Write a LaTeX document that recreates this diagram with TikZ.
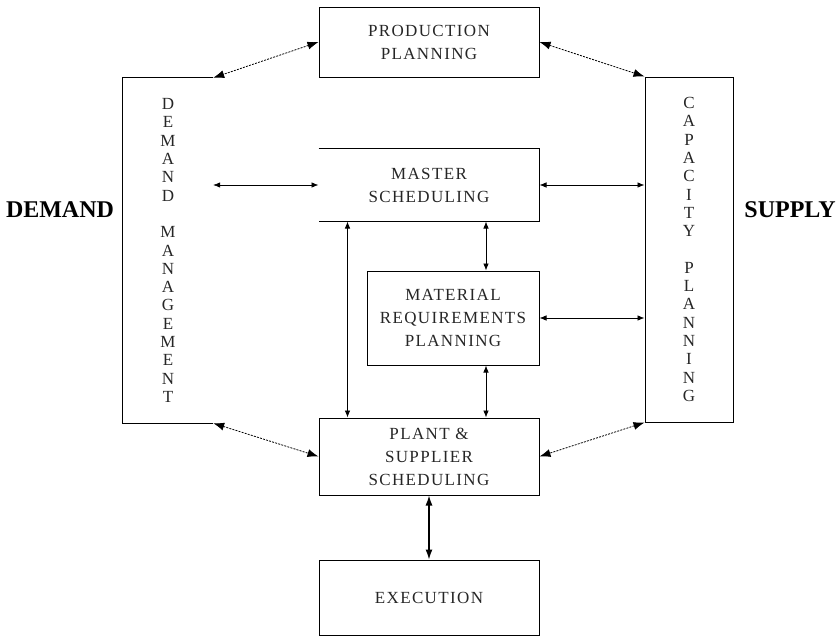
\documentclass[tikz,border=0pt]{standalone}
\usepackage{fontspec}
\setmainfont{Liberation Serif}
\newfontfamily\boxfont[LetterSpace=8]{Liberation Serif}
\usetikzlibrary{arrows.meta}

\begin{document}
\begin{tikzpicture}[x=1pt, y=-1pt,
	box/.style={draw, line width=1pt, minimum width=220pt, align=center, text=black!85, font={\boxfont\fontsize{17}{23}\selectfont}},
	column/.style={minimum width=90pt, minimum height=345pt, align=center, text=black!85, font={\boxfont\fontsize{17}{18.3}\selectfont}},
	side/.style={font={\bfseries\fontsize{24}{28}\selectfont}},
	link/.style={line width=0.7pt, {Latex[length=7pt,width=5.5pt]}-{Latex[length=7pt,width=5.5pt]}},
	feed/.style={line width=0.8pt, dash pattern=on 2pt off 1.2pt, {Latex[length=11pt,width=8pt]}-{Latex[length=11pt,width=8pt]}}]
	\useasboundingbox (0,0) rectangle (839,637);
	% planning boxes
	\node[box, minimum height=70pt] (production) at (429,42) {PRODUCTION\\PLANNING};
	\node[box, draw=none, minimum height=72pt] (master) at (429,185) {MASTER\\SCHEDULING};
	\node[box, minimum width=172pt, minimum height=94pt] (mrp) at (453,318) {MATERIAL\\REQUIREMENTS\\PLANNING};
	\node[box, minimum height=77pt] (plant) at (429,456.5) {PLANT \&\\SUPPLIER\\SCHEDULING};
	\node[box, minimum height=75pt] (execution) at (429,597.5) {EXECUTION};
	% side columns
	\node[column] (demand) at (168,250.5) {D\\E\\M\\A\\N\\D\\[18.3pt]M\\A\\N\\A\\G\\E\\M\\E\\N\\T};
	\node[column, draw, line width=1pt, minimum width=88pt] (capacity) at (689,249.5) {C\\A\\P\\A\\C\\I\\T\\Y\\[18.3pt]P\\L\\A\\N\\N\\I\\N\\G};
	\node[side] (demandlabel) at (60,210) {DEMAND};
	\node[side] (supplylabel) at (790,210) {SUPPLY};
	\draw[line width=1pt] (demand.north east) -- (demand.north west) -- (demand.south west) -- (demand.south east);
	\draw[line width=1pt] (master.north west) -- (master.north east) -- (master.south east) -- (master.south west);
	% links
	\draw[feed] (production.west) -- (demand.north east);
	\draw[feed] (production.east) -- (capacity.north west);
	\draw[feed] (demand.south east) -- (plant.west);
	\draw[feed] (capacity.south west) -- (plant.east);
	\draw[link] (demand.east |- master.west) -- (master.west);
	\draw[link] (master.east) -- (capacity.west |- master.east);
	\draw[link] (mrp.east) -- (capacity.west |- mrp.east);
	\draw[link] ([xshift=33pt]mrp.north |- master.south) -- ([xshift=33pt]mrp.north);
	\draw[link] ([xshift=33pt]mrp.south) -- ([xshift=33pt]mrp.south |- plant.north);
	\draw[link] ([xshift=29pt]master.south west) -- ([xshift=29pt]plant.north west);
	\draw[line width=1.3pt, {Latex[length=10pt,width=7pt]}-{Latex[length=10pt,width=7pt]}] (plant.south) -- (execution.north);
\end{tikzpicture}
\end{document}
